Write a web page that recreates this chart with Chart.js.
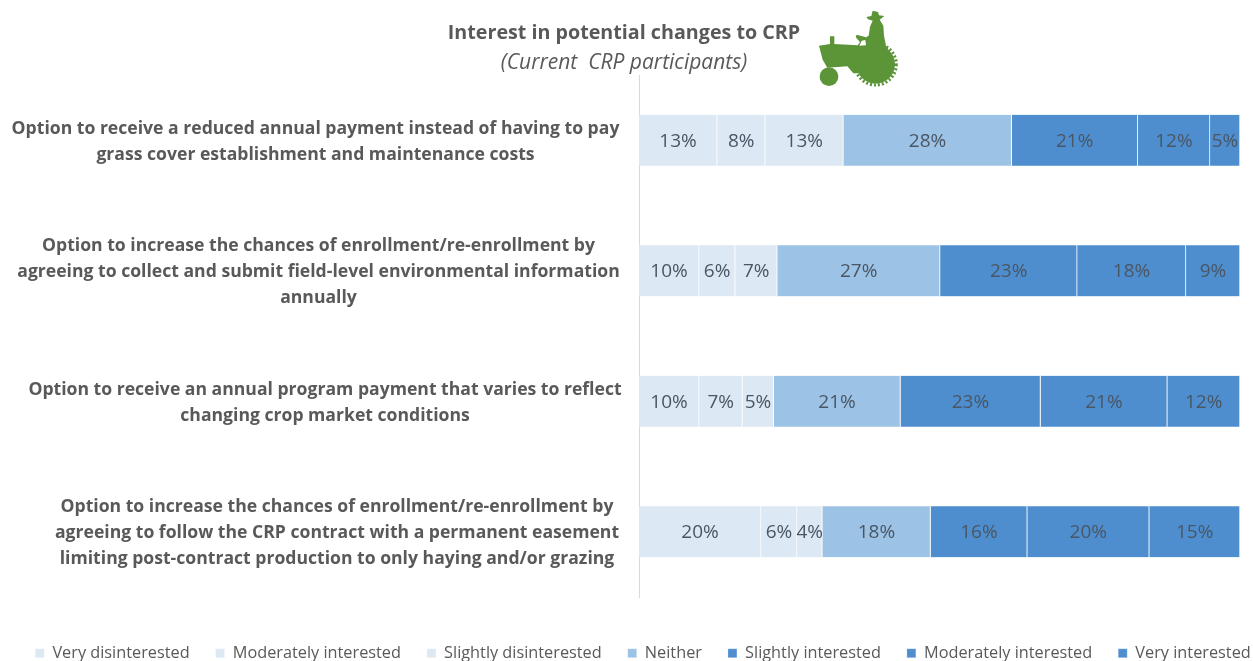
<!DOCTYPE html>
<html>
<head>
<meta charset="utf-8">
<title>Interest in potential changes to CRP</title>
<script src="https://cdn.jsdelivr.net/npm/chart.js@4"></script>
<style>
html,body{margin:0;padding:0;background:#fff;overflow:hidden}
#wrap{position:relative;width:1253px;height:661px}
canvas{position:absolute;left:0;top:0}
#tractor{position:absolute;left:810px;top:5px;width:96px;height:88px}
</style>
</head>
<body>
<div id="wrap">
<canvas id="c" width="1253" height="661"></canvas>
<svg id="tractor" viewBox="0 0 288 264" aria-hidden="true">
  <g fill="#5c9438">
    <path d="M27 122 L60 117 L60 94 L73 94 L73 117 L143 121 L150 112 L137 96 L140 89 L168 97 L176 92 L180 65 L188 47 L174 43 L169 36 L184 33 L188 17 L204 21 L207 31 L223 33 L209 44 L220 62 L222 92 L228 122 L245 150 L250 190 L190 205 L130 205 L112 184 L52 188 L38 164 Z"/>
    <circle cx="57" cy="215" r="28"/>
    <circle cx="197" cy="178" r="58"/>
    <circle cx="197" cy="178" r="62" fill="none" stroke="#5c9438" stroke-width="9" stroke-dasharray="6 6"/>
  </g>
  <path d="M148 122 L155 107 L166 105 L168 121 Z" fill="#fff"/>
</svg>
</div>
<script>
const categories = [
  ["Option to receive a reduced annual payment instead of having to pay", "grass cover establishment and maintenance costs"],
  ["Option to increase the chances of enrollment/re-enrollment by", "agreeing to collect and submit field-level environmental information", "annually"],
  ["Option to receive an annual program payment that varies to reflect", "changing crop market conditions"],
  ["Option to increase the chances of enrollment/re-enrollment by", "agreeing to follow the CRP contract with a permanent easement", "limiting post-contract production to only haying and/or grazing"]
];
const seriesNames = ["Very disinterested", "Moderately interested", "Slightly disinterested", "Neither", "Slightly interested", "Moderately interested", "Very interested"];
const veryDisinterested = [13, 10, 10, 20.3];
const moderatelyDisinterested = [8, 6, 7.2, 6];
const slightlyDisinterested = [13, 7, 5.2, 4.2];
const neither = [28, 27.1, 21.1, 18];
const slightlyInterested = [21, 22.8, 23.3, 16.1];
const moderatelyInterested = [12, 18.1, 21.1, 20.3];
const veryInterested = [5, 9, 12.1, 15.1];
const seriesValues = [veryDisinterested, moderatelyDisinterested, slightlyDisinterested, neither, slightlyInterested, moderatelyInterested, veryInterested];
const seriesColors = ["#dce8f4", "#dce8f4", "#dce8f4", "#9cc2e5", "#4e8ecf", "#4e8ecf", "#4e8ecf"];
const tickCentres = [315.5, 318.5, 325, 337];

const FONT = '"Open Sans", sans-serif';
const TEXT = "#595959";

const barLabels = {
  id: "barLabels",
  afterDatasetsDraw(chart) {
    const ctx = chart.ctx;
    ctx.save();
    ctx.font = "19px " + FONT;
    ctx.fillStyle = "#4a5663";
    ctx.textAlign = "center";
    ctx.textBaseline = "middle";
    chart.data.datasets.forEach((ds, i) => {
      chart.getDatasetMeta(i).data.forEach((bar, j) => {
        const p = bar.getProps(["x", "y", "base"], true);
        ctx.fillText(Math.round(ds.data[j]) + "%", (p.x + p.base) / 2, p.y + 1);
      });
    });
    ctx.restore();
  }
};

const placement = {
  id: "placement",
  afterLayout(chart) {
    chart.boxes.forEach(b => {
      if (b.position === "top") { b.left += 24; b.right += 24; }
      if (b === chart.legend) { b.left += 43; b.right += 43; }
    });
  },
  beforeDraw(chart) {
    const items = chart.scales.y.getLabelItems();
    if (items.placed) return;
    items.placed = true;
    items.forEach((item, i) => {
      item.options.textAlign = "center";
      item.options.translation[0] = tickCentres[i];
      item.options.translation[1] += 1.5;
    });
  }
};

new Chart(document.getElementById("c"), {
  type: "bar",
  plugins: [barLabels, placement],
  data: {
    labels: categories,
    datasets: seriesNames.map((name, i) => ({
      label: name,
      data: seriesValues[i],
      backgroundColor: seriesColors[i],
      borderColor: "#ffffff",
      borderWidth: { left: 0, right: 1, top: 0, bottom: 0 },
      barThickness: 51
    }))
  },
  options: {
    indexAxis: "y",
    responsive: false,
    animation: false,
    layout: { padding: { top: 0, left: -40, right: 13, bottom: -10.3 } },
    scales: {
      x: {
        stacked: true, min: 0, max: 100,
        grid: { display: false }, border: { display: false },
        ticks: { display: false },
        afterFit(s) { s.height = 22; }
      },
      y: {
        stacked: true,
        grid: { display: false },
        border: { display: true, color: "#d9d9d9", width: 1 },
        ticks: {
          color: TEXT, autoSkip: false,
          crossAlign: "center",
          font: { family: FONT, size: 17.6, weight: "bold", lineHeight: 26 / 17.6 }
        },
        afterFit(s) { s.width = 679; }
      }
    },
    plugins: {
      title: {
        display: true, text: "Interest in potential changes to CRP", color: TEXT,
        font: { family: FONT, size: 19.7, weight: "bold", lineHeight: 1.2 },
        padding: { top: 22, bottom: 4.3 }
      },
      subtitle: {
        display: true, text: "(Current  CRP participants)", color: TEXT,
        font: { family: FONT, size: 21, style: "italic", weight: "normal", lineHeight: 1.2 },
        padding: { top: 0, bottom: 0 }
      },
      legend: {
        position: "bottom",
        labels: {
          color: TEXT, boxWidth: 9, boxHeight: 9, padding: 26,
          font: { family: FONT, size: 16.3 }
        }
      },
      tooltip: { enabled: false }
    }
  }
});
</script>
</body>
</html>
